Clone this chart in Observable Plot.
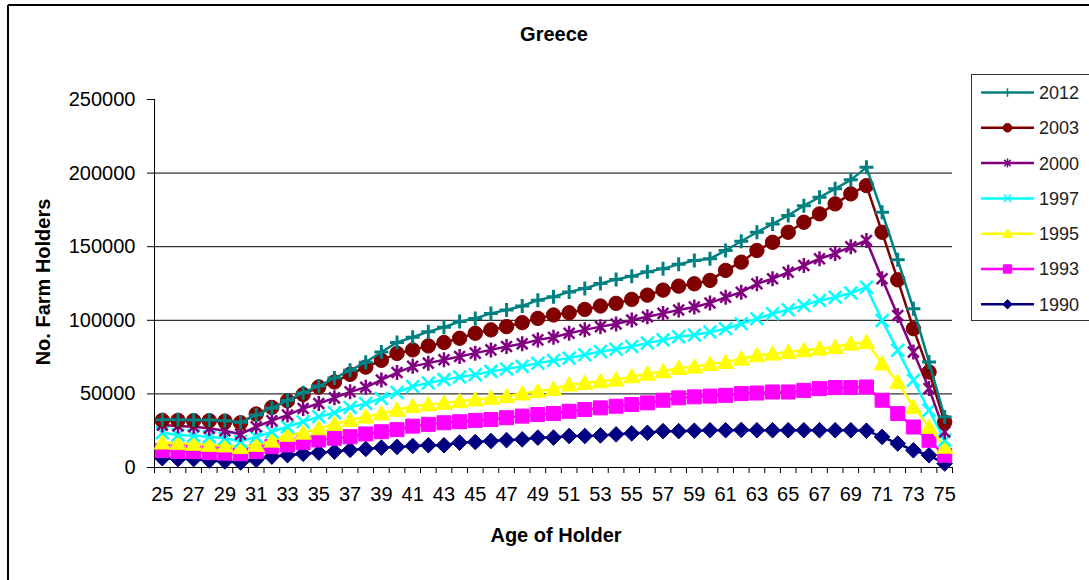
<!DOCTYPE html>
<html>
<head>
<meta charset="utf-8">
<script src="https://cdn.jsdelivr.net/npm/d3@7"></script>
<script src="https://cdn.jsdelivr.net/npm/@observablehq/plot@0.6"></script>
<style>
  html, body { margin: 0; padding: 0; background: #fff; }
  #wrap { position: relative; width: 1089px; height: 580px; overflow: hidden; background: #fff;
          font-family: "Liberation Sans", Arial, sans-serif; }
  #wrap > svg { position: absolute; left: 0; top: 0; }
</style>
</head>
<body>
<div id="wrap"></div>
<script>
// ---------- data ----------
const ages = [25,26,27,28,29,30,31,32,33,34,35,36,37,38,39,40,41,42,43,44,45,46,47,48,49,50,
              51,52,53,54,55,56,57,58,59,60,61,62,63,64,65,66,67,68,69,70,71,72,73,74,75];
const xTickLabels = [25,27,29,31,33,35,37,39,41,43,45,47,49,51,53,55,57,59,61,63,65,67,69,71,73,75];
const yTickValues = [0,50000,100000,150000,200000,250000];
const yGridValues = [50000,100000,150000,200000];

const v2012 = [32500,32500,32200,32200,31800,30700,35600,40500,45500,50800,55300,60800,66000,71500,78500,85000,
               88500,92300,95300,99100,101300,104700,107000,109700,113700,116000,119300,121600,125000,127700,130000,132900,135100,138000,
               140600,141800,147400,153700,159800,165500,171200,177900,183600,189300,195400,203900,173400,141100,107900,71600,34300];
const v2003 = [32000,32000,31800,31800,31500,30400,36300,40800,45300,49600,54700,58100,63300,68200,72800,77500,
               79900,82600,84900,87800,91200,93500,95700,98400,101300,103600,105100,107400,109700,111500,114200,117100,120500,123200,
               124800,127100,133900,139500,147400,153000,159800,166600,172300,179100,185900,191500,159800,127500,94300,64900,30900];
const v2000 = [28800,28200,27700,26600,25000,22600,27700,31800,35600,40100,43500,47300,51400,54500,59500,64500,
               68700,70900,73200,75400,77700,79900,82200,84000,86700,88500,91200,93500,95700,97500,100200,102400,104700,107000,
               109000,111700,115700,119100,124800,128200,132700,137200,141800,145400,149900,154200,128200,103300,78400,53600,24200];
const v1997 = [23600,22100,21600,20900,19900,17600,20900,24300,27700,31100,34500,37200,40800,43500,46900,51000,
               55100,57400,59700,61500,63000,65300,66900,68700,70900,72700,74300,76600,78800,80400,82200,84500,86700,88900,
               90000,92000,94300,97700,101100,104500,107200,110100,113500,115700,118500,122500,99900,79600,59200,38900,18500];
const v1995 = [16900,16500,16000,15300,14900,13800,15300,18200,22100,23600,26600,29500,32200,34500,36700,39200,
               41600,42800,43900,45000,46200,47300,48400,50200,51800,53400,56300,57400,58500,59700,61900,63700,65300,67600,
               68500,70300,71600,73900,76200,77300,78400,79600,80700,81800,84100,85200,70600,58100,41100,27500,14000];
const v1993 = [11500,10800,10800,10100,9700,9300,10800,14200,15300,16900,18700,19900,20900,22800,24300,25700,
               28100,29300,30400,31100,32000,32600,33800,34900,36000,36700,38200,39400,40500,41600,42800,43900,45700,47300,
               48000,48500,49000,50200,50600,51300,51300,52400,53600,54300,54300,54700,45700,36600,27500,18500,8300];
const v1990 = [6300,5700,5700,4700,4100,3400,5200,7400,8400,9300,10100,10800,12000,12600,13500,14000,
               14600,15100,15100,16900,17300,18000,18600,19100,20300,20300,21400,21400,21800,22500,23200,23600,24700,24700,
               25000,25300,25300,25500,25300,25300,25300,25300,25300,25300,25300,25000,20800,16300,11700,8300,2700];

const years = ["2012","2003","2000","1997","1995","1993","1990"];
const colors = ["#008080","#800000","#800080","#00FFFF","#FFFF00","#FF00FF","#000080"];
const valuesByYear = [v2012, v2003, v2000, v1997, v1995, v1993, v1990];

// ---------- Excel-like marker symbols ----------
const rOf = size => Math.sqrt(size / Math.PI);
const symPlus = { draw(c, s) { const r = rOf(s); c.moveTo(-r,0); c.lineTo(r,0); c.moveTo(0,-r); c.lineTo(0,r); } };
const symCircle = d3.symbolCircle;
const symAsterisk = { draw(c, s) { const r = rOf(s), d = r*0.72; c.moveTo(0,-r); c.lineTo(0,r);
                       c.moveTo(-d,-d); c.lineTo(d,d); c.moveTo(-d,d); c.lineTo(d,-d); } };
const symTimes = { draw(c, s) { const d = rOf(s)*0.75; c.moveTo(-d,-d); c.lineTo(d,d); c.moveTo(-d,d); c.lineTo(d,-d); } };
const symTriangle = { draw(c, s) { const r = rOf(s); c.moveTo(0,-r); c.lineTo(r,r*0.8); c.lineTo(-r,r*0.8); c.closePath(); } };
const symSquare = { draw(c, s) { const r = rOf(s); c.rect(-r,-r,2*r,2*r); } };
const symDiamond = { draw(c, s) { const r = rOf(s); c.moveTo(0,-r); c.lineTo(r,0); c.lineTo(0,r); c.lineTo(-r,0); c.closePath(); } };

const styleOf = {
  "2012": {symbol: symPlus, r: 7, filled: false, sw: 3},
  "2003": {symbol: symCircle, r: 7.2, filled: true},
  "2000": {symbol: symAsterisk, r: 7.5, filled: false, sw: 2.5},
  "1997": {symbol: symTimes, r: 8.5, filled: false, sw: 2.5},
  "1995": {symbol: symTriangle, r: 8, filled: true},
  "1993": {symbol: symSquare, r: 7, filled: true},
  "1990": {symbol: symDiamond, r: 7.8, filled: true}
};

// ---------- chart ----------
const W = 1089, H = 580;
const xDomain = [24.5, 75.5];
const xEdges = d3.range(xDomain[0], xDomain[1] + 0.01, 1);

const marks = [
  Plot.gridY({ticks: yGridValues, stroke: "#000", strokeOpacity: 1, strokeWidth: 1}),
  Plot.ruleY([0], {stroke: "#000", strokeWidth: 1}),
  Plot.ruleX([xDomain[0]], {stroke: "#000", strokeWidth: 1}),
  Plot.axisY({ticks: yTickValues, tickSize: 7, tickPadding: 12, tickFormat: d3.format("d"),
              fontSize: 20, label: null, stroke: "#000"}),
  Plot.axisX({ticks: xEdges, tickSize: 6, tickFormat: () => "", label: null, stroke: "#000"}),
  Plot.axisX({ticks: xTickLabels, tickSize: 0, tickPadding: 19, tickFormat: d3.format("d"),
              fontSize: 20, label: null})
];

// draw oldest first so 2012 ends on top
for (let k = years.length - 1; k >= 0; k--) {
  const yr = years[k], col = colors[k], vals = valuesByYear[k], st = styleOf[yr];
  const rows = ages.map((a, i) => ({age: a, value: vals[i]}));
  marks.push(Plot.line(rows, {x: "age", y: "value", stroke: col, strokeWidth: 2.5}));
  marks.push(Plot.dot(rows, {
    x: "age", y: "value", symbol: st.symbol, r: st.r,
    fill: st.filled ? col : "none",
    stroke: col, strokeWidth: st.filled ? 1 : st.sw
  }));
}

const chart = Plot.plot({
  width: W, height: H,
  marginLeft: 154, marginRight: W - 952, marginTop: 99, marginBottom: H - 467,
  x: {type: "linear", domain: xDomain, label: null},
  y: {domain: [0, 250000], label: null},
  style: {background: "transparent", color: "#000", fontFamily: "'Liberation Sans', Arial, sans-serif",
          fontSize: "20px", overflow: "visible"},
  marks
});
document.getElementById("wrap").appendChild(chart);

// ---------- overlay: frame, titles, legend ----------
const ns = "http://www.w3.org/2000/svg";
const ov = d3.select("#wrap").append("svg")
  .attr("xmlns", ns).attr("width", W).attr("height", H)
  .style("font-family", "'Liberation Sans', Arial, sans-serif");

ov.append("path").attr("d", "M8,5H1089M8,5V580").attr("stroke", "#000").attr("stroke-width", 2).attr("fill", "none");

ov.append("text").attr("x", 554).attr("y", 41).attr("text-anchor", "middle")
  .attr("font-weight", "bold").attr("font-size", 20).text("Greece");
ov.append("text").attr("x", 556).attr("y", 542).attr("text-anchor", "middle")
  .attr("font-weight", "bold").attr("font-size", 20).text("Age of Holder");
ov.append("text").attr("transform", "translate(50,282) rotate(-90)").attr("text-anchor", "middle")
  .attr("font-weight", "bold").attr("font-size", 20).text("No. Farm Holders");

// legend
const lg = ov.append("g");
lg.append("rect").attr("x", 971.5).attr("y", 74.5).attr("width", 200).attr("height", 246)
  .attr("fill", "#fff").attr("stroke", "#333").attr("stroke-width", 1);
years.forEach((yr, i) => {
  const cy = 92.5 + i * 35.3, col = colors[i], st = styleOf[yr];
  const g = lg.append("g");
  g.append("line").attr("x1", 981).attr("x2", 1034).attr("y1", cy).attr("y2", cy)
    .attr("stroke", col).attr("stroke-width", 2.5);
  const size = Math.PI * Math.pow(st.r * 0.6, 2);
  g.append("path").attr("transform", `translate(1007.5,${cy})`)
    .attr("d", d3.symbol(st.symbol, size)())
    .attr("fill", st.filled ? col : "none").attr("stroke", col)
    .attr("stroke-width", st.filled ? 1 : 1.5);
  g.append("text").attr("x", 1039).attr("y", cy).attr("dy", "0.36em")
    .attr("font-size", 18).attr("fill", "#222").text(yr);
});
</script>
</body>
</html>
